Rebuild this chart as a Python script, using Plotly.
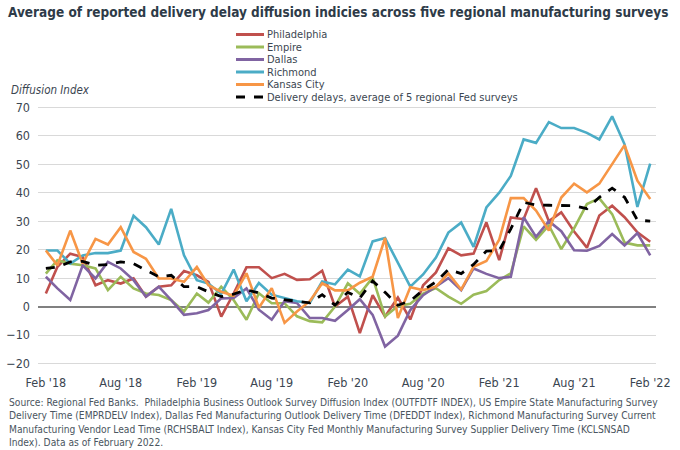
import pandas as pd
import plotly.graph_objects as go

months = pd.date_range("2018-02-01", periods=49, freq="MS")

philadelphia = [4.6, 14, 18.6, 17.4, 7.5, 9.3, 8.1, 9.9, 3.5, 7, 7.5, 12.5, 11, 8.7, -3.5, 4.6,
                13.8, 13.8, 10, 11.5, 9.4, 9.6, 12.6, 0, 3.5, -9.3, 4, -3.5, 3.2, -4.5, 7.5, 12,
                20.5, 18, 18.6, 29.6, 16.3, 31.3, 30.7, 41.6, 30, 33.1, 26.4, 20.7, 32, 35.4, 31.4, 26.1, 22.8]
empire = [11.6, 16.3, 15.1, 14.5, 13.4, 5.8, 10.5, 6.4, 4.6, 4.1, 2.3, -1.7, 4.6, 1.4, 7, 2.3,
          -4.6, 4.7, 1.2, 1.2, -3.4, -5.1, -5.5, 0, 8.2, 4.5, 10.2, -3.5, 0.2, 1, 4.6, 6.5,
          3.5, 1, 4.2, 5.5, 9.3, 11.7, 28.2, 23.5, 28.5, 20.2, 27.5, 36, 38, 32.5, 22.5, 21.5, 21.5]
dallas = [10.5, 6.4, 2.3, 14.5, 9.9, 15.7, 13.4, 9.3, 3.5, 7, 2.3, -2.9, -2.3, -1.2, 2.9, 3,
          6.4, -1.1, -4.6, 1.9, 1.3, -4, -4, -5, -1.2, 2.6, -2.9, -14, -10.2, -1.2, 4, 6.9,
          10, 5.8, 13.4, 11.5, 10, 10.5, 31.4, 24.5, 30, 26.5, 19.8, 19.6, 21.3, 25.5, 21.5, 25.8, 18]
richmond = [19.7, 19.7, 15.1, 18, 18.8, 18.8, 19.7, 31.9, 27.9, 21.8, 34.3, 18, 9.3, 8.1, 4.5, 13,
            1.9, 8.3, 4.2, 3, 1.9, 1.3, 8.8, 7.8, 13, 10.6, 22.9, 24.1, 15.4, 7, 11.3, 17.2,
            26, 29.5, 21, 34.8, 40, 45.9, 58.7, 57.5, 64.8, 62.7, 62.7, 61, 58.7, 66.8, 57, 35, 50.2]
kansas_city = [19.7, 14.5, 26.7, 15.1, 23.8, 21.8, 27.9, 19.2, 16.8, 9.9, 9.9, 8.7, 13.9, 7.5, 5.2, 3.8,
               11.7, -0.4, 6.5, -5.7, -1.7, 1.9, 8.2, 5.7, 5.7, 8.4, 10.5, 24.1, -4, 6.8, 5.8, 7,
               11.6, 6, 14, 16, 23.5, 38.1, 38.1, 33.7, 26.7, 38.3, 43.2, 40.1, 43.2, 49.9, 56.7, 44.2, 37.8]
average = [13.4, 13.9, 15.7, 15.9, 14.5, 14.8, 15.7, 15.1, 12.8, 10.5, 11, 7, 7, 5.2, 3.5, 4.4,
           5.9, 4.8, 3, 2.5, 1.9, 1.3, 4.2, 0.5, 5, 3, 9, 5, 0.5, 2, 5.8, 8.7,
           13, 11.6, 14.8, 19.5, 19.7, 27.3, 36.6, 35.7, 35.6, 35.6, 35.4, 34.4, 38.4, 41.6, 38.4, 30.4, 30]

series_names = ["Philadelphia", "Empire", "Dallas", "Richmond", "Kansas City",
                "Delivery delays, average of 5 regional Fed surveys"]
series_values = [philadelphia, empire, dallas, richmond, kansas_city, average]
series_colors = ["#c0504d", "#9bbb59", "#8064a2", "#4bacc6", "#f79646", "#000000"]

tick_dates = ["2018-02-01", "2018-08-01", "2019-02-01", "2019-08-01", "2020-02-01",
              "2020-08-01", "2021-02-01", "2021-08-01", "2022-02-01"]
tick_labels = ["Feb '18", "Aug '18", "Feb '19", "Aug '19", "Feb '20",
               "Aug '20", "Feb '21", "Aug '21", "Feb '22"]

FONT = "Liberation Sans Narrow, Arial Narrow, DejaVu Sans Condensed, sans-serif"
TXT = "#3b4651"

W, H = 680, 450
ML, MR, MT, MB = 38, 24, 103, 85
PW, PH = W - ML - MR, H - MT - MB


def px_x(px):
    return (px - ML) / PW


def px_y(py):
    return (H - MB - py) / PH


fig = go.Figure()
for name, vals, col in zip(series_names, series_values, series_colors):
    dash = "dash" if col == "#000000" else "solid"
    fig.add_trace(go.Scatter(x=months, y=vals, mode="lines", name=name,
                             line=dict(color=col, width=2.6 if dash == "solid" else 2.8, dash=dash),
                             showlegend=False))

# custom compact legend
shapes = []
annotations = []
leg_y = [34.5, 47, 59.5, 72, 84.5, 97]
for name, col, ly in zip(series_names, series_colors, leg_y):
    dash = "dash" if col == "#000000" else "solid"
    shapes.append(dict(type="line", xref="paper", yref="paper",
                       x0=px_x(236), x1=px_x(264), y0=px_y(ly), y1=px_y(ly),
                       line=dict(color=col, width=3, dash=dash)))
    annotations.append(dict(text=name, xref="paper", yref="paper", x=px_x(265), y=px_y(ly),
                            xanchor="left", yanchor="middle", showarrow=False,
                            font=dict(family=FONT, size=11, color=TXT)))

annotations.append(dict(text="<i>Diffusion Index</i>", xref="paper", yref="paper",
                        x=px_x(9), y=px_y(90), xanchor="left", yanchor="middle",
                        showarrow=False, font=dict(family=FONT, size=11.5, color=TXT)))

source = ("Source: Regional Fed Banks.  Philadelphia Business Outlook Survey Diffusion Index (OUTFDTF INDEX), US Empire State Manufacturing Survey<br>"
          "Delivery Time (EMPRDELV Index), Dallas Fed Manufacturing Outlook Delivery Time (DFEDDT Index), Richmond Manufacturing Survey Current<br>"
          "Manufacturing Vendor Lead Time (RCHSBALT Index), Kansas City Fed Monthly Manufacturing Survey Supplier Delivery Time (KCLSNSAD<br>"
          "Index). Data as of February 2022.")
annotations.append(dict(text=source, xref="paper", yref="paper", x=px_x(7), y=px_y(395),
                        xanchor="left", yanchor="top", align="left", showarrow=False,
                        font=dict(family=FONT, size=10.2, color="#4a5560")))

fig.update_layout(
    width=W, height=H,
    margin=dict(l=ML, r=MR, t=MT, b=MB),
    paper_bgcolor="white", plot_bgcolor="white",
    title=dict(text="<b>Average of reported delivery delay diffusion indicies across five regional manufacturing surveys</b>",
               xref="container", yref="container", x=8 / W, y=1 - 12 / H,
               xanchor="left", yanchor="middle",
               font=dict(family=FONT, size=13.5, color="#2e3b48")),
    shapes=shapes, annotations=annotations,
    xaxis=dict(type="date", range=["2018-01-13", "2022-02-15"], automargin=False,
               tickvals=tick_dates, ticktext=tick_labels, showgrid=False,
               zeroline=False, showline=False, ticks="", ticklabelstandoff=8,
               tickfont=dict(family=FONT, size=12.5, color=TXT)),
    yaxis=dict(range=[-20.5, 71.5], tickvals=list(range(-20, 71, 10)), automargin=False,
               showgrid=True, gridcolor="#d9d9d9", gridwidth=1,
               zeroline=True, zerolinecolor="#808080", zerolinewidth=2,
               showline=False, ticks="", ticklabelstandoff=7,
               tickfont=dict(family=FONT, size=12.5, color=TXT)),
)

fig.write_html("out.html")
